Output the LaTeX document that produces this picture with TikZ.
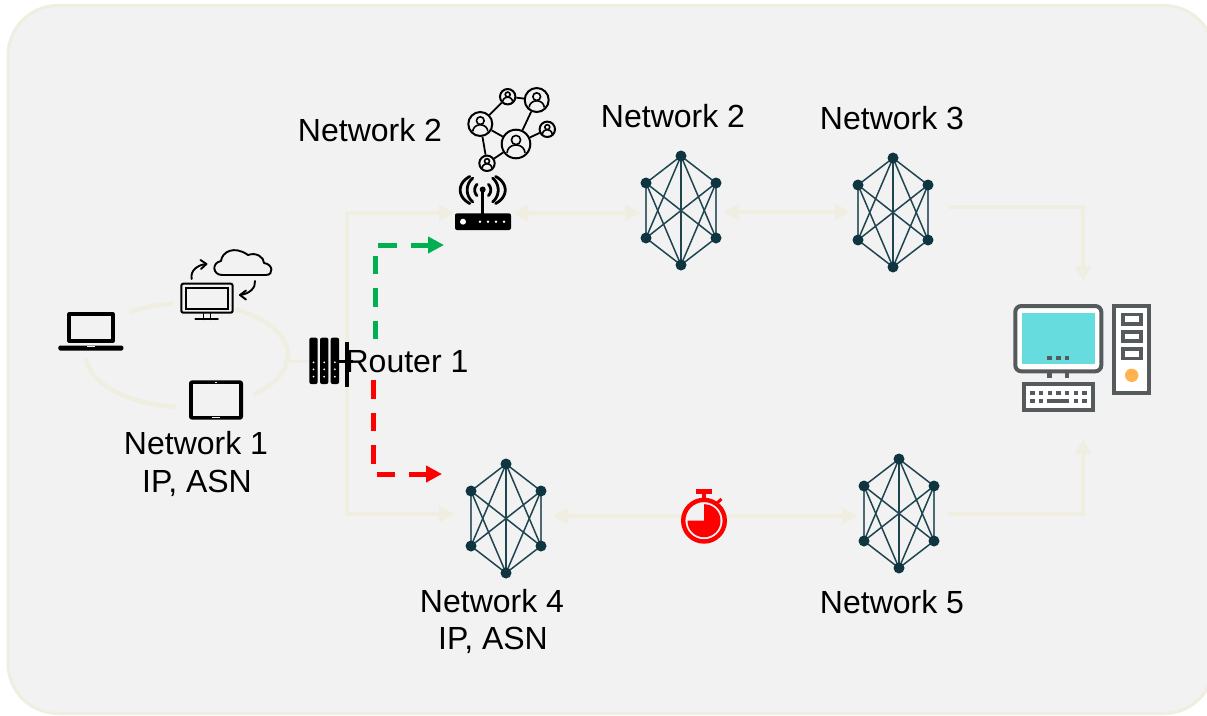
\documentclass[tikz,border=0pt]{standalone}
\usepackage{fontspec}
\setmainfont{Liberation Sans}
\usetikzlibrary{arrows.meta}
\definecolor{bgc}{HTML}{F2F2F2}
\definecolor{beige}{HTML}{EFEEE0}
\definecolor{meshc}{HTML}{0F3540}
\definecolor{meshl}{HTML}{1F4550}
\definecolor{pcg}{HTML}{555A5C}
\definecolor{scr}{HTML}{66DCDF}
\definecolor{orng}{HTML}{FFB24F}
\definecolor{grn}{HTML}{00B050}
\tikzset{
  label text/.style={font=\fontsize{32}{32}\selectfont,text=black,inner sep=0pt,text depth=0pt},
  link/.style={draw=beige,line width=3.6pt,line join=miter},
  linkhead/.style={-{Triangle[length=15pt,width=16pt]}},
  linkboth/.style={{Triangle[length=15pt,width=16pt]}-{Triangle[length=15pt,width=16pt]}},
  dashlink/.style={line width=5pt,dash pattern=on 18.5pt off 14pt,-{Triangle[length=16pt,width=16pt]}},
  meshdot/.style={circle,fill=meshc,inner sep=0pt,minimum size=11pt},
  meshedge/.style={draw=meshl,line width=1.5pt},
  meshside/.style={draw=meshl!80!white,line width=2.6pt},
  personring/.style={circle,draw=black,line width=2pt,fill=bgc,inner sep=0pt},
  icon/.style={draw=black,line width=1.9pt,line cap=round,line join=round},
  pcline/.style={draw=pcg,line width=4pt,fill=white},
}
% mesh network: name, centre x, centre y
\newcommand{\meshnet}[3]{%
  \coordinate (#1-t) at (#2,#3-55);
  \coordinate (#1-b) at (#2,#3+54);
  \coordinate (#1-ul) at (#2-35,#3-28);
  \coordinate (#1-ur) at (#2+35,#3-28);
  \coordinate (#1-ll) at (#2-35,#3+27);
  \coordinate (#1-lr) at (#2+35,#3+27);
  \foreach \a/\b in {t/ul,t/ur,t/ll,t/lr,t/b,ul/lr,ul/b,ur/ll,ur/b,ll/b,lr/b}
    \draw[meshedge] (#1-\a) -- (#1-\b);
  \foreach \a/\b in {ul/ll,ur/lr}
    \draw[meshside] (#1-\a) -- (#1-\b);
  \foreach \a in {t,b,ul,ur,ll,lr}
    \node[meshdot] (#1-\a-dot) at (#1-\a) {};
}
% person in ring: name, x, y, radius
\newcommand{\personnode}[4]{%
  \node[personring,minimum size=#4*2pt] (#1) at (#2,#3) {};
  \draw[black,line width=1.6pt] (#2,#3-#4*0.28) circle[radius=#4*0.32pt];
  \draw[black,line width=1.6pt]
    plot[domain=180:0,samples=16] ({#2+#4*0.62*cos(\x)},{#3+#4*0.62-#4*0.55*sin(\x)});
}
% elliptical arc drawn as a plot: cx, cy, rx, ry, from, to
\newcommand{\earc}[6]{plot[domain=#5:#6,samples=40] ({#1+#3*cos(\x)},{#2-#4*sin(\x)})}
\begin{document}
\begin{tikzpicture}[x=1pt,y=-1pt]
\useasboundingbox (0,0) rectangle (1207,715);
\clip (0,0) rectangle (1207,715);
\fill[white] (0,0) rectangle (1207,715);
\draw[draw=beige,fill=bgc,line width=3pt,rounded corners=50pt] (8,5.5) rectangle (1214,713.5);

% ring of network 1
\draw[link,line width=4.4pt] \earc{187}{355}{101}{52}{124}{98};
\draw[link,line width=4.4pt] \earc{187}{355}{101}{52}{61}{-49};
\draw[link,line width=4.4pt] \earc{187}{355}{101}{52}{264}{183};

% anchors
\coordinate (ringout) at (284,361.5);
\coordinate (srv) at (310,361.5);
\coordinate (trunktop) at (347,213);
\coordinate (trunkbot) at (347,514);
\coordinate (wifiw) at (454,213);
\coordinate (n4w) at (454,514);
\coordinate (wifie) at (513,213);
\coordinate (n2w) at (640,213);
\coordinate (n2e) at (724,212);
\coordinate (n3w) at (850,212);
\coordinate (n3out) at (948,207);
\coordinate (pct) at (1083,281);
\coordinate (n5out) at (948,514);
\coordinate (pcb) at (1083,439);
\coordinate (n4e) at (553,516);
\coordinate (n5w) at (857,516);

\draw[link] (ringout) -- (srv);
\draw[link,linkhead] (trunkbot) -- (trunktop) -- (wifiw);
\draw[link,linkhead] (trunktop) -- (trunkbot) -- (n4w);
\draw[link,linkboth] (wifie) -- (n2w);
\draw[link,linkboth] (n2e) -- (n3w);
\draw[link,linkhead] (n3out) -| (pct);
\draw[link,linkhead] (n5out) -| (pcb);
\draw[link,linkboth] (n4e) -- (n5w);

% dashed routes
\coordinate (gs) at (375,339.3);
\coordinate (gc) at (375,245);
\coordinate (ge) at (444,245);
\coordinate (rs) at (373,380);
\coordinate (rc) at (373,474);
\coordinate (re) at (442,474);
\draw[dashlink,draw=grn] (gs) -- (gc) -- (ge);
\draw[dashlink,draw=red] (rs) -- (rc) -- (re);

% mesh networks
\meshnet{netb}{681}{211}
\meshnet{netc}{893}{213}
\meshnet{netd}{506}{519}
\meshnet{nete}{899}{514}

% labels
\node[label text] (l2a) at (370,130) {Network 2};
\node[label text] (l2b) at (673,116) {Network 2};
\node[label text] (l3) at (892,118) {Network 3};
\node[label text] (l1a) at (196,443) {Network 1};
\node[label text] (l1b) at (197,481) {IP, ASN};
\node[label text] (l4a) at (492,601) {Network 4};
\node[label text] (l4b) at (493,638) {IP, ASN};
\node[label text] (l5) at (892,602) {Network 5};

% laptop
\draw[black,line width=3.6pt,line join=round] (69.2,314.2) rectangle (112.8,340.8);
\fill[black,rounded corners=1.5pt] (58.3,345.5) rectangle (123.3,350.5);
\fill[bgc] (87,346) rectangle (95,347);

% monitor with cloud
\draw[black,line width=2pt,rounded corners=2pt,fill=bgc] (181.3,283.7) rectangle (232.7,312.7);
\draw[black,line width=2pt] (186,287.7) rectangle (227.7,308.7);
\draw[icon] (203.5,312.7) -- (203.5,319.3) (210.5,312.7) -- (210.5,319.3) (195.3,319.3) -- (218,319.3);
\draw[icon] (222,275) .. controls (213,275) and (211,263) .. (221,261)
  .. controls (222,252) and (234,245) .. (248,255)
  .. controls (256,252) and (264,257) .. (264,263)
  .. controls (273,264) and (274,275) .. (266,275) -- cycle;
\draw[icon] (191.7,279) .. controls (190,271) and (197,265) .. (206,264);
\draw[icon] (200.5,260) -- (206.5,264) -- (201,269);
\draw[icon] (255,281) .. controls (256,288) and (249,294) .. (240,295);
\draw[icon] (246,290.5) -- (240,295) -- (246,299.5);

% tablet
\fill[black,rounded corners=3pt] (189,380.3) rectangle (243,419.7);
\fill[bgc] (193.3,384.3) rectangle (239.3,416);
\fill[bgc] (215,382) rectangle (217,383);
\fill[bgc] (212,417.2) rectangle (220,418.2);

% router 1 (server rack)
\foreach \xx in {309.3,320,330.7}{
  \fill[black,rounded corners=2pt] (\xx,337.7) rectangle (\xx+8.4,384);
  \foreach \yy in {362.3,369.3,376.7}
    \fill[white] (\xx+4.2,\yy) circle[radius=1pt];
}
\fill[black] (345.3,341.7) rectangle (349,386.7);
\fill[black] (339,359.5) rectangle (353,362.5);
\node[label text] (rt) at (407,361) {Router 1};

% people cluster
\personnode{pa}{480.3}{124}{12}
\personnode{pb}{507.7}{96.7}{7.7}
\personnode{pc}{536.7}{100}{12}
\personnode{pd}{547.3}{129.3}{7.7}
\personnode{pe}{516}{144}{14.3}
\personnode{pf}{487}{163.3}{7.7}
\foreach \a/\b in {pa/pb,pb/pc,pc/pe,pe/pd,pa/pf,pf/pe,pa/pe}
  \draw[black,line width=1.8pt] (\a) -- (\b);

% wifi router
\fill[black,rounded corners=2pt] (455,213.3) rectangle (511,230);
\fill[white] (463,221.7) circle[radius=3pt];
\foreach \xx in {480,488,496,504}\fill[white] (\xx,221.7) circle[radius=1.4pt];
\draw[black,line width=2.6pt] (482.7,191) -- (482.7,214);
\fill[black] (482.7,189.5) circle[radius=3pt];
\draw[black,line width=2.8pt,line cap=round] \earc{482.7}{190}{8}{8}{-45}{45};
\draw[black,line width=2.8pt,line cap=round] \earc{482.7}{190}{8}{8}{135}{225};
\draw[black,line width=2.8pt,line cap=round] \earc{482.7}{190}{15.5}{15.5}{-50}{50};
\draw[black,line width=2.8pt,line cap=round] \earc{482.7}{190}{15.5}{15.5}{130}{230};
\draw[black,line width=2.8pt,line cap=round] \earc{482.7}{190}{22.5}{16.5}{-55}{55};
\draw[black,line width=2.8pt,line cap=round] \earc{482.7}{190}{22.5}{16.5}{125}{235};

% stopwatch
\fill[red] (695.7,489) rectangle (712,493.5);
\fill[red] (701.7,493) rectangle (706,499);
\draw[red,line width=3pt] (717.3,502.7) -- (721.5,499);
\draw[red,fill=bgc,line width=4.4pt] (704,520.7) circle[radius=20.8pt];
\fill[red] (704,520.7) -- plot[domain=90:-180,samples=40] ({704+16.5*cos(\x)},{520.7-16.5*sin(\x)}) -- cycle;

% computer
\draw[pcline,rounded corners=6pt] (1015.3,306) rectangle (1101.3,371.3);
\fill[scr] (1021.7,312.7) rectangle (1095,364);
\foreach \xx in {1049.7,1058.3,1067}{
  \fill[pcg] (\xx-2.3,355.7) rectangle (\xx+2.3,360.3);
}
\foreach \xx in {1049.7,1067}{
  \fill[pcg] (\xx-2.3,373) rectangle (\xx+2.3,378);
}
\draw[pcline] (1023.7,383.7) rectangle (1093.3,409.7);
\foreach \xx in {1032.3,1041,1049.7,1058.3,1067,1075.7,1084.3}{
  \fill[pcg] (\xx-2.2,390.5) rectangle (\xx+2.2,394.9);
}
\foreach \xx in {1032.3,1041,1075.7,1084.3}{
  \fill[pcg] (\xx-2.2,398.8) rectangle (\xx+2.2,403.2);
}
\fill[pcg] (1047.3,399) rectangle (1069.3,403);
\draw[pcline] (1114.3,306) rectangle (1149,392.7);
\foreach \yy in {312.7,330,347.3}{
  \draw[pcline,line width=3.6pt] (1122.8,\yy+1.8) rectangle (1140.9,\yy+11);
}
\fill[orng] (1131.7,375.3) circle[radius=6.7pt];
\end{tikzpicture}
\end{document}
